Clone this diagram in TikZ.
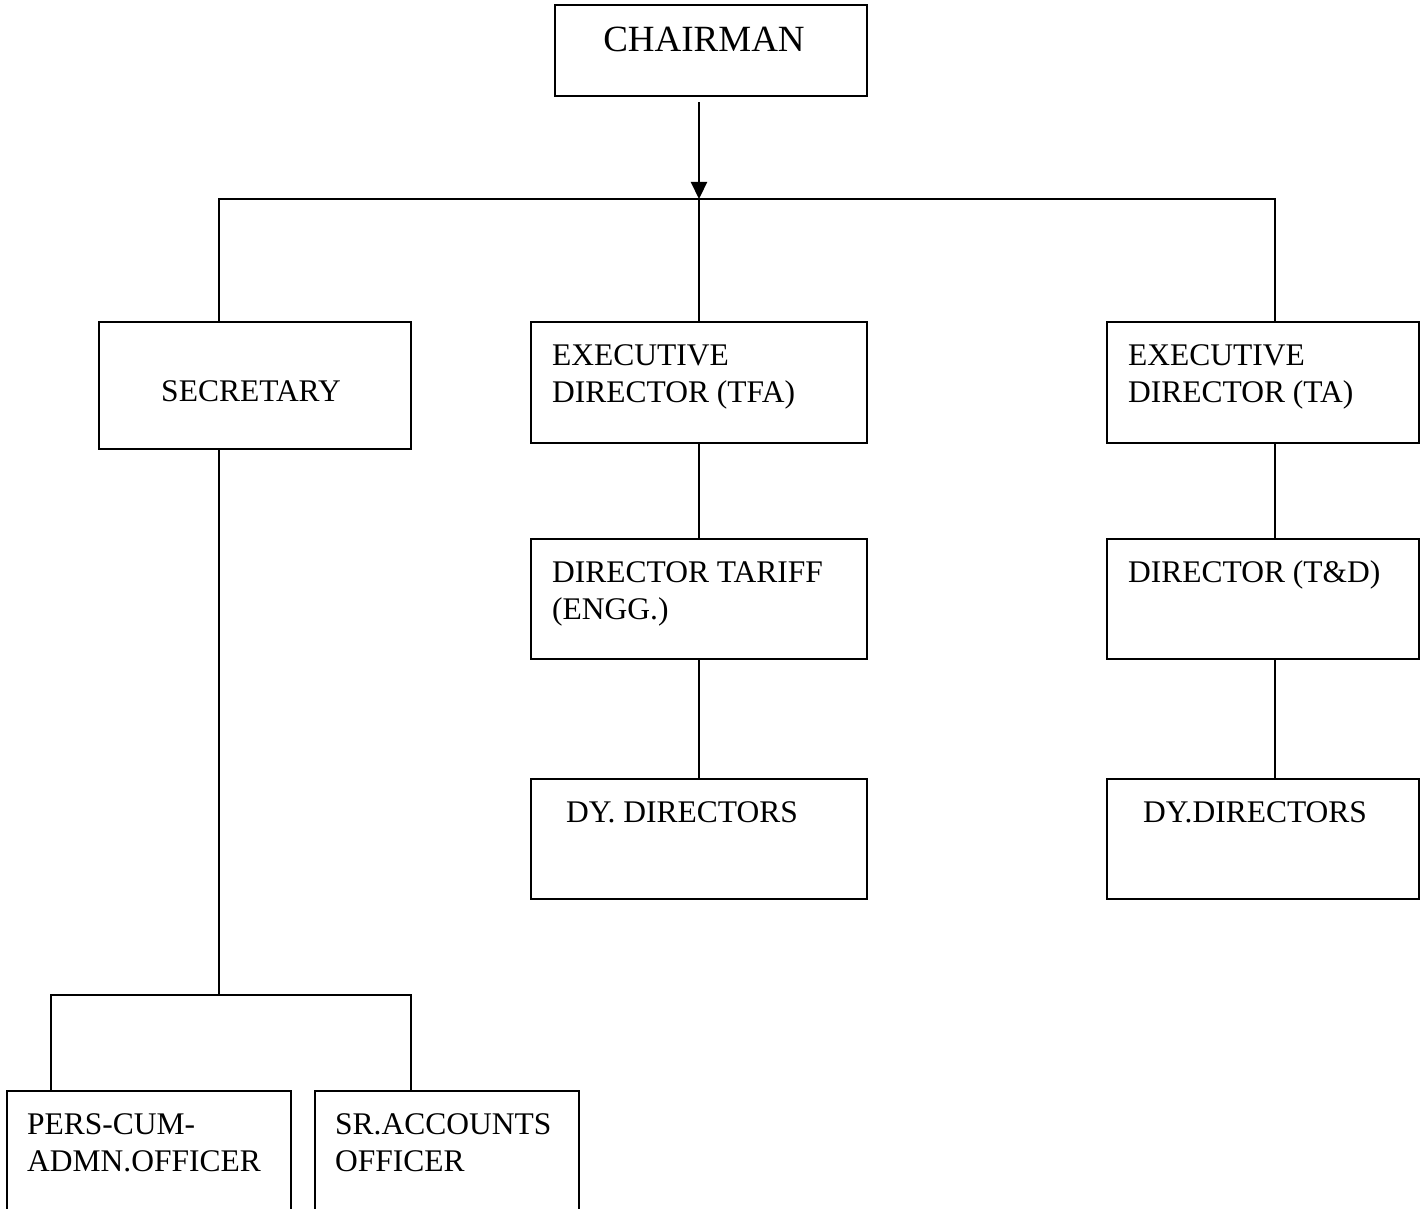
\documentclass[tikz,border=0pt]{standalone}
\usepackage{fontspec}
\setmainfont{Liberation Serif}
\usetikzlibrary{arrows.meta}
\begin{document}
\begin{tikzpicture}[x=1pt,y=-1pt,
  box/.style={draw,line width=2.2pt,rectangle,inner sep=0pt},
  lbl/.style={anchor=base west,inner sep=0pt,align=left,font=\fontsize{31.5}{37}\selectfont},
  conn/.style={line width=2.2pt}]
\clip (0,0) rectangle (1422,1209);
\fill[white] (0,0) rectangle (1422,1209);
% boxes
\node[box,minimum width=312,minimum height=91] (chair) at (711,50.5) {};
\node[box,minimum width=312,minimum height=127] (sec) at (255,385.5) {};
\node[box,minimum width=336,minimum height=121] (tfa) at (699,382.5) {};
\node[box,minimum width=312,minimum height=121] (ta) at (1263,382.5) {};
\node[box,minimum width=336,minimum height=120] (dt) at (699,599) {};
\node[box,minimum width=312,minimum height=120] (td) at (1263,599) {};
\node[box,minimum width=336,minimum height=120] (dy1) at (699,839) {};
\node[box,minimum width=312,minimum height=120] (dy2) at (1263,839) {};
\node[box,minimum width=284,minimum height=150] (pers) at (149,1166) {};
\node[box,minimum width=264,minimum height=150] (sr) at (447,1166) {};
% labels (base = baseline of the last line)
\node[anchor=base,inner sep=0pt,font=\fontsize{37}{44}\selectfont] (tchair) at (704,52) {CHAIRMAN};
\node[anchor=base,inner sep=0pt,font=\fontsize{31.5}{37}\selectfont] (tsec) at (251,401) {SECRETARY};
\node[lbl] (ttfa) at (552,402) {EXECUTIVE\\DIRECTOR (TFA)};
\node[lbl] (tta) at (1128,402) {EXECUTIVE\\DIRECTOR (TA)};
\node[lbl] (tdt) at (552,619) {DIRECTOR TARIFF\\(ENGG.)};
\node[lbl] (ttd) at (1128,582) {DIRECTOR (T\&D)};
\node[lbl] (tdy1) at (566,822) {DY. DIRECTORS};
\node[lbl] (tdy2) at (1143,822) {DY.DIRECTORS};
\node[lbl] (tpers) at (27,1171) {PERS-CUM-\\ADMN.OFFICER};
\node[lbl] (tsr) at (335,1171) {SR.ACCOUNTS\\OFFICER};
% junctions
\coordinate (j) at (699,199);
\coordinate (jl) at (219,199);
\coordinate (jr) at (1275,199);
\coordinate (jb) at (219,995);
\coordinate (jbl) at (51,995);
\coordinate (jbr) at (411,995);
% connectors
\draw[conn,-{Triangle[length=17pt,width=16pt]},shorten <=5pt] (chair.south -| j) -- (j);
\draw[conn,line cap=rect] (jl) -- (jr);
\draw[conn] (jl) -- (jl |- sec.north);
\draw[conn] (j) -- (tfa.north);
\draw[conn] (jr) -- (jr |- ta.north);
\draw[conn] (tfa.south) -- (dt.north);
\draw[conn] (dt.south) -- (dy1.north);
\draw[conn] (jr |- ta.south) -- (jr |- td.north);
\draw[conn] (jr |- td.south) -- (jr |- dy2.north);
\draw[conn] (jl |- sec.south) -- (jb);
\draw[conn,line cap=rect] (jbl) -- (jbr);
\draw[conn] (jbl) -- (jbl |- pers.north);
\draw[conn] (jbr) -- (jbr |- sr.north);
\end{tikzpicture}
\end{document}
